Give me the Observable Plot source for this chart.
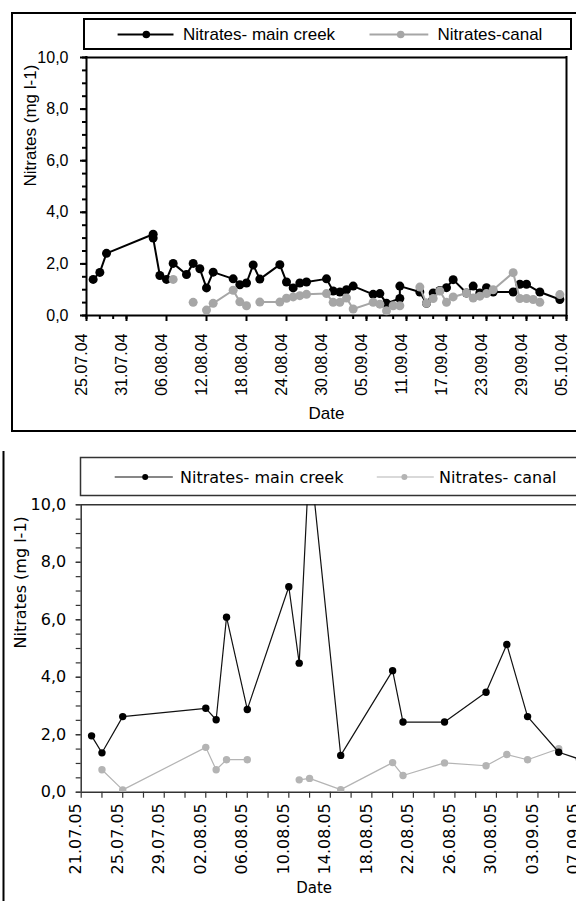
<!DOCTYPE html>
<html><head><meta charset="utf-8">
<script src="https://cdn.jsdelivr.net/npm/d3@7"></script>
<script src="https://cdn.jsdelivr.net/npm/@observablehq/plot@0.6"></script>
<style>
html,body{margin:0;padding:0;background:#fff;overflow:hidden;}
#wrap{position:relative;width:576px;height:901px;overflow:hidden;background:#fff;}
#wrap > svg{position:absolute;}
</style></head><body><div id="wrap"></div>
<script>
// ---------- 2004 panel ----------
const creek04Dates = ["26.07","27.07","28.07","04.08","04.08","05.08","06.08","07.08","09.08","10.08","11.08","12.08","13.08","16.08","17.08","18.08","19.08","20.08","23.08","24.08","25.08","26.08","27.08","30.08","31.08","01.09","02.09","03.09","06.09","07.09","08.09","10.09","10.09","13.09","14.09","15.09","16.09","17.09","18.09","20.09","21.09","22.09","23.09","24.09","27.09","28.09","29.09","01.10","04.10"];
const creek04Values = [1.40,1.67,2.41,3.15,3.00,1.55,1.40,2.02,1.59,2.02,1.81,1.07,1.68,1.42,1.19,1.26,1.96,1.41,1.97,1.30,1.07,1.26,1.30,1.42,0.95,0.91,1.00,1.14,0.82,0.85,0.47,0.66,1.14,0.91,0.47,0.87,0.97,1.08,1.39,0.87,1.14,0.87,1.08,0.91,0.91,1.21,1.21,0.91,0.62];
const canal04Dates = ["07.08","08.08","10.08","11.08","12.08","13.08","16.08","17.08","18.08","19.08","20.08","23.08","24.08","25.08","26.08","27.08","30.08","31.08","01.09","02.09","03.09","06.09","07.09","08.09","09.09","10.09","11.09","13.09","14.09","15.09","16.09","17.09","18.09","20.09","21.09","22.09","23.09","24.09","27.09","28.09","29.09","30.09","01.10","02.10","04.10"];
const canal04Values = [1.40,null,0.51,null,0.21,0.47,0.98,0.53,0.38,null,0.52,0.52,0.67,0.72,0.77,0.82,0.85,0.51,0.51,0.68,0.25,0.51,0.44,0.18,0.38,0.38,null,1.10,0.47,0.66,0.95,0.51,0.72,0.87,0.68,0.75,0.85,1.00,1.66,0.66,0.66,0.62,0.51,null,0.81];
const xTickLabels04 = ["25.07.04","31.07.04","06.08.04","12.08.04","18.08.04","24.08.04","30.08.04","05.09.04","11.09.04","17.09.04","23.09.04","29.09.04","05.10.04"];

// ---------- 2005 panel ----------
const creek05Dates = ["22.07","23.07","25.07","02.08","03.08","04.08","06.08","10.08","11.08","12.08","15.08","20.08","21.08","25.08","29.08","31.08","02.09","05.09","07.09"];
const creek05Values = [1.96,1.37,2.63,2.92,2.52,6.09,2.88,7.15,4.49,11.8,1.28,4.23,2.44,2.44,3.48,5.14,2.63,1.39,1.15];
const canal05Dates = ["23.07","25.07","02.08","03.08","04.08","06.08","08.08","11.08","12.08","15.08","20.08","21.08","25.08","29.08","31.08","02.09","05.09"];
const canal05Values = [0.78,0.08,1.56,0.78,1.13,1.13,null,0.43,0.48,0.09,1.03,0.58,1.02,0.92,1.31,1.13,1.51];
const xTickLabels05 = ["21.07.05","25.07.05","29.07.05","02.08.05","06.08.05","10.08.05","14.08.05","18.08.05","22.08.05","26.08.05","30.08.05","03.09.05","07.09.05","11.09.05"];

const yTicks = [0,2,4,6,8,10];
const yTickLabels = ["0,0","2,0","4,0","6,0","8,0","10,0"];
const seriesNames04 = ["Nitrates- main creek","Nitrates-canal"];
const seriesNames05 = ["Nitrates- main creek","Nitrates- canal"];
const yTitle = "Nitrates (mg l-1)";
const xTitle = "Date";

// ---------- helpers ----------
const parseDM = (s, y) => { const [d,m] = s.split("."); return new Date(Date.UTC(y, +m - 1, +d)); };
const parseFull = s => { const [d,m,y] = s.split("."); return new Date(Date.UTC(2000 + +y, +m - 1, +d)); };
const rows = (dates, vals, y) => dates.map((d,i) => ({date: parseDM(d, y), v: vals[i]}));

const wrap = document.getElementById("wrap");
const NS = "http://www.w3.org/2000/svg";

// ---------- top chart ----------
{
  const W = 600, H = 440;
  const font = "'Liberation Sans', Arial, sans-serif";
  const x0 = parseFull(xTickLabels04[0]), x1 = parseFull(xTickLabels04[xTickLabels04.length-1]);
  const major = xTickLabels04.map(parseFull);
  const minor = d3.utcDay.every(2).range(x0, d3.utcDay.offset(x1, 1)).filter(d => (d - x0) / 864e5 % 2 === 0);
  const creek = rows(creek04Dates, creek04Values, 2004);
  const canal = rows(canal04Dates, canal04Values, 2004);
  const grey = "#a6a6a6";
  const p = Plot.plot({
    width: W, height: H,
    marginLeft: 86, marginRight: W - 566, marginTop: 57, marginBottom: H - 315,
    style: {fontFamily: font, fontSize: "16px", background: "transparent", maxWidth: "none", color: "#000"},
    x: {type: "utc", domain: [x0, x1]},
    y: {domain: [0, 10]},
    marks: [
      Plot.axisY({ticks: d3.range(0, 10.001, 0.5), tickSize: 4, tickFormat: () => "", strokeWidth: 2, label: null}),
      Plot.axisY({ticks: yTicks, tickSize: 6, tickPadding: 12, tickFormat: d => yTickLabels[yTicks.indexOf(d)], strokeWidth: 2, label: null, fontSize: 16}),
      Plot.axisX({ticks: minor, tickSize: 4, tickFormat: () => "", strokeWidth: 2, label: null}),
      Plot.axisX({ticks: major, tickSize: 6, tickFormat: () => "", strokeWidth: 2, label: null}),
      Plot.text(major, {x: d => d, text: (d, i) => xTickLabels04[i], frameAnchor: "bottom", rotate: -90, textAnchor: "end", dy: 18, fontSize: 16}),
      Plot.ruleX([x0], {stroke: "#000", strokeWidth: 2, strokeLinecap: "square"}),
      Plot.ruleY([0], {stroke: "#000", strokeWidth: 2, strokeLinecap: "square"}),
      Plot.ruleY([10], {stroke: "#000", strokeWidth: 2, strokeLinecap: "square"}),
      Plot.ruleX([x1], {stroke: "#000", strokeWidth: 2, strokeLinecap: "square"}),
      Plot.line(creek, {x: "date", y: "v", stroke: "#000", strokeWidth: 2}),
      Plot.dot(creek, {x: "date", y: "v", fill: "#000", r: 4.5}),
      Plot.line(canal, {x: "date", y: "v", stroke: grey, strokeWidth: 2}),
      Plot.dot(canal, {x: "date", y: "v", fill: grey, r: 4.5}),
      Plot.text([yTitle], {text: d => d, frameAnchor: "left", rotate: -90, dx: -55.5, fontSize: 17}),
      Plot.text([xTitle], {text: d => d, frameAnchor: "bottom", dy: 103, fontSize: 17})
    ]
  });
  p.style.left = "0px"; p.style.top = "0px";
  wrap.appendChild(p);
}

// ---------- bottom chart ----------
{
  const W = 640, H = 451, TOP = 450;
  const font = "'DejaVu Sans', sans-serif";
  const x0 = parseFull(xTickLabels05[0]), x1 = parseFull(xTickLabels05[xTickLabels05.length-1]);
  const major = xTickLabels05.map(parseFull);
  const minor = d3.utcDay.every(1).range(x0, d3.utcDay.offset(x1, 1)).filter(d => Math.round((d - x0) / 864e5) % 2 === 0);
  const creek = rows(creek05Dates, creek05Values, 2005);
  const canal = rows(canal05Dates, canal05Values, 2005);
  const grey = "#b4b4b4";
  const axisC = "#333";
  const p = Plot.plot({
    width: W, height: H,
    marginLeft: 80.7, marginRight: W - 620.5, marginTop: 504.3 - TOP, marginBottom: H - (791.7 - TOP),
    style: {fontFamily: font, fontSize: "16px", background: "transparent", maxWidth: "none", color: "#000"},
    x: {type: "utc", domain: [x0, x1]},
    y: {domain: [0, 10]},
    marks: [
      Plot.axisY({ticks: d3.range(0, 10.001, 0.5), tickSize: 5, tickFormat: () => "", stroke: axisC, strokeWidth: 1.2, label: null}),
      Plot.axisY({ticks: yTicks, tickSize: 5, tickPadding: 10, tickFormat: d => yTickLabels[yTicks.indexOf(d)], stroke: axisC, strokeWidth: 1.2, label: null, fontSize: 16}),
      Plot.axisX({ticks: minor, tickSize: 6, tickFormat: () => "", stroke: axisC, strokeWidth: 1.2, label: null}),
      Plot.text(major, {x: d => d, text: (d, i) => xTickLabels05[i], frameAnchor: "bottom", rotate: -90, textAnchor: "end", dy: 11, fontSize: 16}),
      Plot.ruleX([x0], {stroke: axisC, strokeWidth: 1.5}),
      Plot.ruleY([0], {stroke: axisC, strokeWidth: 1.5}),
      Plot.ruleY([10], {stroke: axisC, strokeWidth: 1.5}),
      Plot.line(canal, {x: "date", y: "v", stroke: grey, strokeWidth: 1.2, clip: true}),
      Plot.dot(canal, {x: "date", y: "v", fill: grey, r: 3.7, clip: true}),
      Plot.line(creek, {x: "date", y: "v", stroke: "#111", strokeWidth: 1.2, clip: true}),
      Plot.dot(creek, {x: "date", y: "v", fill: "#000", r: 3.7, clip: true}),
      Plot.text([yTitle], {text: d => d, frameAnchor: "left", rotate: -90, dx: -60, fontSize: 16}),
      Plot.text([xTitle], {text: d => d, frameAnchor: "bottom", dy: 101, fontSize: 15, dx: -37})
    ]
  });
  p.style.left = "0px"; p.style.top = TOP + "px";
  wrap.appendChild(p);
}

// ---------- legends & chart borders ----------
{
  const svg = document.createElementNS(NS, "svg");
  svg.setAttribute("width", 576); svg.setAttribute("height", 901);
  svg.style.left = "0px"; svg.style.top = "0px"; svg.style.pointerEvents = "none";
  const add = (tag, attrs, text) => { const e = document.createElementNS(NS, tag); for (const k in attrs) e.setAttribute(k, attrs[k]); if (text) e.textContent = text; svg.appendChild(e); return e; };
  // top chart outer border and legend
  add("rect", {x: 12, y: 13, width: 620, height: 418, fill: "none", stroke: "#000", "stroke-width": 2});
  add("rect", {x: 84, y: 19, width: 487, height: 30, fill: "none", stroke: "#000", "stroke-width": 2});
  const f1 = "font-family:'Liberation Sans', Arial, sans-serif;font-size:17px";
  add("line", {x1: 117.6, x2: 173.5, y1: 34.5, y2: 34.5, stroke: "#000", "stroke-width": 2});
  add("circle", {cx: 146.3, cy: 34.5, r: 3.8, fill: "#000"});
  add("text", {x: 183, y: 34.5, "dominant-baseline": "central", style: f1}, seriesNames04[0]);
  add("line", {x1: 369.5, x2: 428.3, y1: 34.5, y2: 34.5, stroke: "#a6a6a6", "stroke-width": 2});
  add("circle", {cx: 400.7, cy: 34.5, r: 3.8, fill: "#a6a6a6"});
  add("text", {x: 437.5, y: 34.5, "dominant-baseline": "central", style: f1}, seriesNames04[1]);
  // bottom chart border and legend
  add("line", {x1: 3.5, x2: 3.5, y1: 451, y2: 901, stroke: "#000", "stroke-width": 2});
  add("rect", {x: 80.5, y: 457.5, width: 620, height: 38, fill: "none", stroke: "#333", "stroke-width": 1.5});
  const f2 = "font-family:'DejaVu Sans', sans-serif;font-size:16px";
  add("line", {x1: 114.7, x2: 172.8, y1: 477, y2: 477, stroke: "#111", "stroke-width": 1.2});
  add("circle", {cx: 145.2, cy: 477, r: 3, fill: "#000"});
  add("text", {x: 180, y: 477, "dominant-baseline": "central", style: f2}, seriesNames05[0]);
  add("line", {x1: 376.8, x2: 433.8, y1: 477, y2: 477, stroke: "#b4b4b4", "stroke-width": 1.2});
  add("circle", {cx: 404.4, cy: 477, r: 3, fill: "#b4b4b4"});
  add("text", {x: 439, y: 477, "dominant-baseline": "central", style: f2}, seriesNames05[1]);
  wrap.appendChild(svg);
}
</script>
</body></html>
